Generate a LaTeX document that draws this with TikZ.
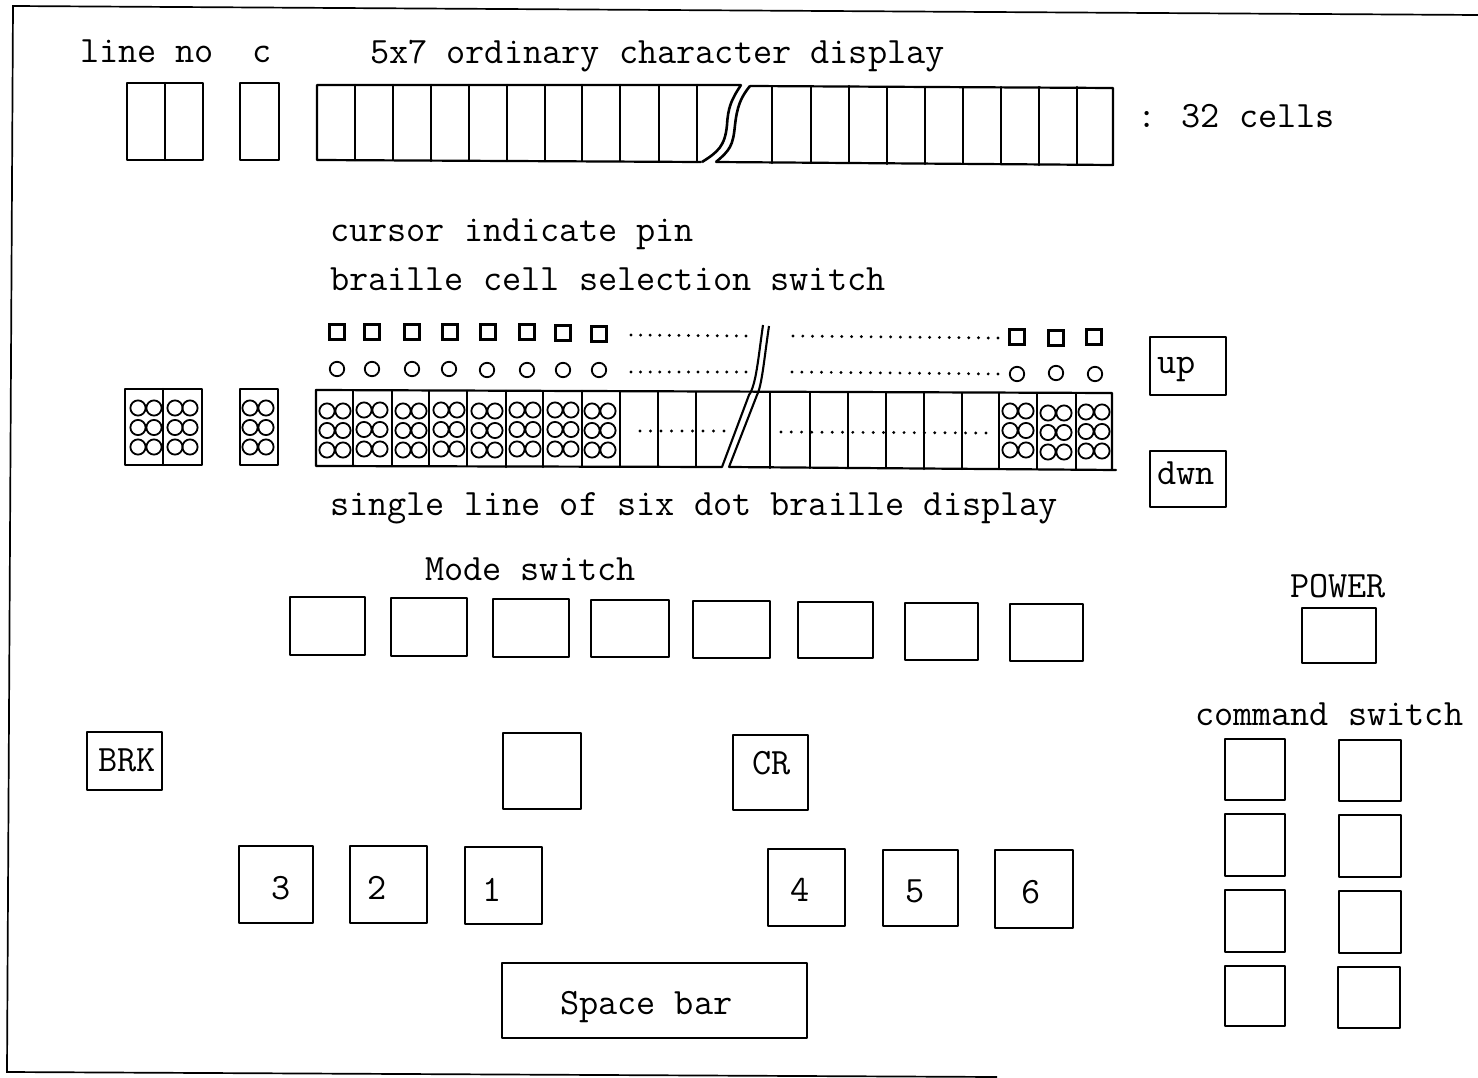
\documentclass[tikz,border=0pt]{standalone}
\tikzset{
  ink/.style={line width=2.2pt,black,line cap=round,line join=round},
  txt/.style={inner sep=0pt,outer sep=0pt,anchor=base west,font=\fontsize{37.2}{41}\selectfont\ttfamily},
  dotc/.style={line width=1.8pt,black}
}
% corner-specified key box: name, x0, y0, x1, y1
\newcommand{\keybox}[5]{\coordinate (#1a) at (#2,#3);\coordinate (#1b) at (#4,#5);\draw[ink] (#1a) rectangle (#1b);}
% row of dots: x0, y0, x1, y1, count-1
\newcommand{\dotrow}[5]{\foreach \i in {0,...,#5}{\fill[black] ({#1+(#3-#1)*\i/#5},{#2+(#4-#2)*\i/#5}) circle (1.6);}}
% braille group: x-left-column, x-right-column, top y
\newcommand{\brcell}[3]{\foreach \yy in {0,19.5,39}{\draw[dotc] (#1,#3+\yy) circle (7.6);\draw[dotc] (#2,#3+\yy) circle (7.6);}}
\begin{document}
\begin{tikzpicture}[x=1pt,y=-1pt]
\useasboundingbox (0,0) rectangle (1478,1078);
\fill[white] (0,0) rectangle (1478,1078);
% outer frame
\coordinate (fa) at (1478,15);
\coordinate (fb) at (13,6);
\coordinate (fc) at (7,1072);
\coordinate (fd) at (997,1077);
\draw[line width=1.7pt] (fa) -- (fb) -- (fc) -- (fd);

% top texts
\node[txt] (t1) at (80,63) {line no};
\node[txt] (t2) at (252,63) {c};
\node[txt] (t3) at (370,64) {5x7 ordinary character display};
\node[txt] (t4) at (1137,128) {: 32 cells};
\node[txt] (t5) at (330,242) {cursor indicate pin};
\node[txt] (t6) at (330,290) {braille cell selection switch};
\node[txt] (t7) at (330,515) {single line of six dot braille display};
\node[txt] (t8) at (425,580) {Mode switch};
\node[txt] (t9) at (1290,597) {POWER};
\node[txt] (t10) at (1195,725) {command switch};

% line number / c display
\keybox{ln}{127}{83}{203}{160}
\draw[ink] (165,83) -- (165,160);
\keybox{cc}{240}{83}{279}{160}

% 5x7 display
\draw[ink] (741,85) -- (317,85) -- (317,160) -- (701,162);
\draw[ink] (750,86) -- (1113,88) -- (1113,165) -- (716,162);
\foreach \x/\a/\b in {355/85/160,393/85/160,431/85/161,469/85/161,507/85/161,545/85/161,582/85/161,620/85/161,659/85/162,697/85/162,772/86/163,811/86/163,849/86/163,887/87/164,925/87/164,963/87/164,1001/87/164,1039/87/165,1077/87/165}
  {\draw[ink] (\x,\a) -- (\x,\b);}
\draw[line width=2.6pt] (741,85) .. controls (731,100) and (728,108) .. (727,125) .. controls (725,146) and (718,152) .. (702,162);
\draw[line width=2.6pt] (750,86) .. controls (740,98) and (737,108) .. (735,125) .. controls (733,146) and (730,150) .. (716,162);

% braille: small groups
\keybox{bl}{125}{389}{202}{465}
\draw[ink] (163,389) -- (163,465);
\brcell{138}{154}{408}
\brcell{175}{190}{408}
\keybox{bc}{240}{389}{278}{465}
\brcell{250}{266}{408}

% braille line frame
\draw[ink] (316,390) -- (1112,393) -- (1112,469);
\draw[ink] (1116,470) -- (729,467);
\draw[ink] (722,467) -- (316,466) -- (316,390);
\foreach \x/\a/\b in {353/391/466,392/391/466,429/391/466,467/391/466,506/391/467,543/391/467,582/391/467,620/392/467,658/392/467,696/392/467,770/393/468,810/393/468,848/393/468,886/393/468,924/393/469,962/393/469,999/393/469,1037/393/469,1076/393/469}
  {\draw[ink] (\x,\a) -- (\x,\b);}
\draw[line width=2.1pt] (763,325) .. controls (758,360) and (756,385) .. (749,395) -- (722,467);
\draw[line width=2.1pt] (769,326) .. controls (764,360) and (762,385) .. (757,395) -- (729,467);

% braille dots in cells
\foreach \cx/\ty in {335/411,372/410,411/411,449/410,487/411,525/410,563/410,600/411,1018/411,1056/413,1094/412}
  {\brcell{\cx-8}{\cx+8}{\ty}}

% selection switches
\foreach \x/\y in {337/332,372/332,412/332,450/332,488/332,527/332,563/333,599/334,1017/337,1056/338,1094/337}
  {\draw[line width=2.6pt] (\x-7.5,\y-7.5) rectangle (\x+7.5,\y+7.5);}
% cursor pins
\foreach \x/\y in {337/369,372/369,412/369,449/369,487/370,527/370,563/370,599/370,1017/374,1056/373,1095/374}
  {\draw[dotc] (\x,\y) circle (7.2);}

% dotted runs
\dotrow{631}{335}{746}{336}{12}
\dotrow{793}{336}{998}{338}{21}
\dotrow{631}{372}{746}{372}{12}
\dotrow{792}{372}{998}{374}{21}
\dotrow{640}{431}{724}{431}{8}
\dotrow{781}{432}{986}{433}{20}

% up / down
\keybox{up}{1150}{337}{1226}{395}
\node[txt] (tup) at (1157,373) {up};
\keybox{dn}{1150}{451}{1226}{507}
\node[txt] (tdn) at (1157,484) {dwn};

% mode switches
\keybox{m1}{290}{597}{365}{655}
\keybox{m2}{391}{598}{467}{656}
\keybox{m3}{493}{599}{569}{657}
\keybox{m4}{591}{600}{669}{657}
\keybox{m5}{693}{601}{770}{658}
\keybox{m6}{798}{602}{873}{658}
\keybox{m7}{905}{603}{978}{660}
\keybox{m8}{1010}{604}{1083}{661}
\keybox{pw}{1302}{608}{1376}{663}

% command switches
\keybox{c1}{1225}{739}{1285}{800}
\keybox{c2}{1225}{814}{1285}{876}
\keybox{c3}{1225}{890}{1285}{952}
\keybox{c4}{1225}{966}{1285}{1026}
\keybox{c5}{1339}{740}{1401}{801}
\keybox{c6}{1339}{815}{1401}{877}
\keybox{c7}{1339}{891}{1401}{953}
\keybox{c8}{1338}{967}{1400}{1028}

% keyboard
\keybox{brk}{87}{732}{162}{790}
\node[txt] (tbrk) at (98,771) {BRK};
\keybox{bk}{503}{733}{581}{809}
\keybox{cr}{733}{735}{808}{810}
\node[txt] (tcr) at (752,774) {CR};
\keybox{kc}{239}{846}{313}{923}
\node[txt] (d3) at (271,899) {3};
\keybox{kb}{350}{846}{427}{923}
\node[txt] (d2) at (367,899) {2};
\keybox{ka}{465}{847}{542}{924}
\node[txt] (d1) at (482,901) {1};
\keybox{kd}{768}{849}{845}{926}
\node[txt] (d4) at (790,901) {4};
\keybox{ke}{883}{850}{958}{926}
\node[txt] (d5) at (905,902) {5};
\keybox{kf}{995}{850}{1073}{928}
\node[txt] (d6) at (1021,903) {6};
\keybox{sp}{502}{963}{807}{1038}
\node[txt] (tsp) at (560,1014) {Space bar};
\end{tikzpicture}
\end{document}
